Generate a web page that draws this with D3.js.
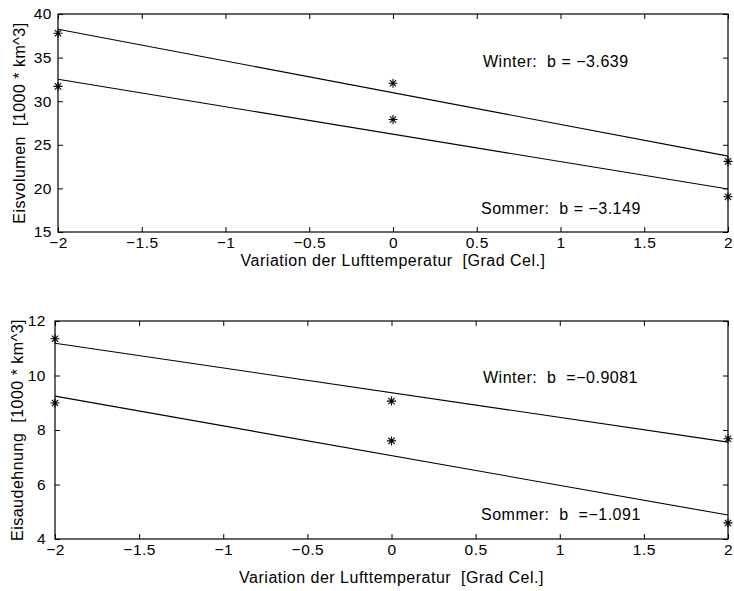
<!DOCTYPE html>
<html>
<head>
<meta charset="utf-8">
<script src="https://cdn.jsdelivr.net/npm/d3@7"></script>
<style>
body { margin:0; background:#fff; }
svg text { font-family: "Liberation Sans", Arial, sans-serif; white-space: pre; letter-spacing: 0.5px; }
</style>
</head>
<body>
<div id="chartsArea"></div>
<script>
// data
var xValues = [-2, 0, 2];
var xTicks = [-2, -1.5, -1, -0.5, 0, 0.5, 1, 1.5, 2];

var volWinter = [37.8, 32.05, 23.1];
var volSommer = [31.7, 27.9, 19.05];
var volSlope = [-3.639, -3.149];      // winter, sommer
var volMean = [30.98, 26.22];         // fit value at x = 0
var volTicks = [15, 20, 25, 30, 35, 40];

var extWinter = [11.35, 9.06, 7.68];
var extSommer = [8.99, 7.6, 4.59];
var extSlope = [-0.9081, -1.091];
var extMean = [9.37, 7.06];
var extTicks = [4, 6, 8, 10, 12];

var labels = [
	["Winter:  b = \u22123.639", "Sommer:  b = \u22123.149"],
	["Winter:  b  =\u22120.9081", "Sommer:  b  =\u22121.091"]
];

var svg = d3.select("#chartsArea").append("svg")
	.attr("width", 734)
	.attr("height", 591);

var asterisk = function(s) {
	var d = s * 0.7;
	return "M" + (-s) + ",0H" + s + "M0," + (-s) + "V" + s +
		"M" + (-d) + "," + (-d) + "L" + d + "," + d +
		"M" + (-d) + "," + d + "L" + d + "," + (-d);
};

var makePanel = function(cfg) {
	var x = d3.scaleLinear().domain([-2, 2]).range([cfg.left, cfg.right]);
	var y = d3.scaleLinear().domain(cfg.yDomain).range([cfg.bottom, cfg.top]);
	var g = svg.append("g");

	// box
	g.append("rect")
		.attr("x", cfg.left).attr("y", cfg.top)
		.attr("width", cfg.right - cfg.left)
		.attr("height", cfg.bottom - cfg.top)
		.attr("fill", "none")
		.attr("stroke", "#000")
		.attr("stroke-width", 1.2);

	// axes with inward ticks
	g.append("g")
		.attr("transform", "translate(0," + cfg.bottom + ")")
		.call(d3.axisBottom(x).tickValues(xTicks).tickSizeInner(-5).tickSizeOuter(0).tickPadding(5)
			.tickFormat(function(d) { return d3.format("")(d).replace("-", "\u2212"); }))
		.call(function(a) { a.select(".domain").remove(); });
	g.append("g")
		.attr("transform", "translate(0," + cfg.top + ")")
		.call(d3.axisTop(x).tickValues(xTicks).tickSizeInner(-5).tickSizeOuter(0).tickFormat(""))
		.call(function(a) { a.select(".domain").remove(); });
	g.append("g")
		.attr("transform", "translate(" + cfg.left + ",0)")
		.call(d3.axisLeft(y).tickValues(cfg.yTicks).tickSizeInner(-5).tickSizeOuter(0).tickPadding(cfg.yPad))
		.call(function(a) { a.select(".domain").remove(); });
	g.append("g")
		.attr("transform", "translate(" + cfg.right + ",0)")
		.call(d3.axisRight(y).tickValues(cfg.yTicks).tickSizeInner(-5).tickSizeOuter(0).tickFormat(""))
		.call(function(a) { a.select(".domain").remove(); });

	g.selectAll(".tick text")
		.attr("font-size", 15.5)
		.attr("fill", "#000")
		.attr("font-family", "Liberation Sans, Arial, sans-serif");
	g.selectAll(".tick line").attr("stroke", "#000");

	// fit lines
	var series = [cfg.winter, cfg.sommer];
	series.forEach(function(vals, i) {
		var line = d3.line()
			.x(function(d) { return x(d); })
			.y(function(d) { return y(cfg.mean[i] + cfg.slope[i] * d); });
		g.append("path")
			.datum([-2, 2])
			.attr("d", line)
			.attr("fill", "none")
			.attr("stroke", "#000")
			.attr("stroke-width", 1.1);

		g.selectAll(null)
			.data(vals)
			.enter().append("path")
			.attr("transform", function(d, j) { return "translate(" + x(xValues[j]) + "," + y(d) + ")"; })
			.attr("d", asterisk(4.5))
			.attr("stroke", "#000")
			.attr("stroke-width", 1.1)
			.attr("fill", "none");
	});

	// slope labels
	g.append("text")
		.attr("x", 483).attr("y", cfg.labelY[0])
		.attr("dy", "0.35em")
		.attr("font-size", 16)
		.text(cfg.labels[0]);
	g.append("text")
		.attr("x", 481).attr("y", cfg.labelY[1])
		.attr("dy", "0.35em")
		.attr("font-size", 16)
		.text(cfg.labels[1]);

	// axis titles
	g.append("text")
		.attr("x", (cfg.left + cfg.right) / 2)
		.attr("y", cfg.xLabelY)
		.attr("dy", "0.35em")
		.attr("text-anchor", "middle")
		.attr("font-size", 16)
		.text("Variation der Lufttemperatur  [Grad Cel.]");
	g.append("text")
		.attr("transform", "translate(" + cfg.yLabelX + "," + ((cfg.top + cfg.bottom) / 2) + ") rotate(-90)")
		.attr("dy", "0.35em")
		.attr("text-anchor", "middle")
		.attr("font-size", 16)
		.text(cfg.yTitle);
};

makePanel({
	left: 58, right: 728, top: 14, bottom: 232,
	yDomain: [15, 40], yTicks: volTicks, yPad: 6,
	winter: volWinter, sommer: volSommer,
	slope: volSlope, mean: volMean,
	labels: labels[0], labelY: [61, 208],
	xLabelY: 260, yLabelX: 19,
	yTitle: "Eisvolumen  [1000 * km^3]"
});

makePanel({
	left: 55, right: 728, top: 321, bottom: 539,
	yDomain: [4, 12], yTicks: extTicks, yPad: 9,
	winter: extWinter, sommer: extSommer,
	slope: extSlope, mean: extMean,
	labels: labels[1], labelY: [377, 514],
	xLabelY: 577, yLabelX: 17,
	yTitle: "Eisaudehnung  [1000 * km^3]"
});
</script>
</body>
</html>
